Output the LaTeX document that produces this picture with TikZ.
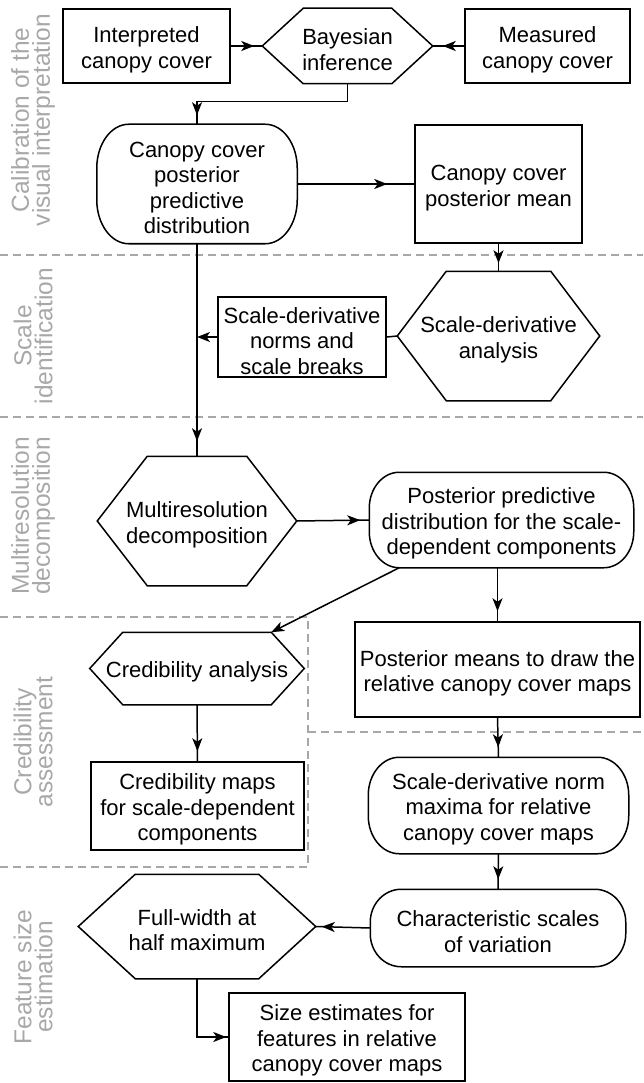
\documentclass[tikz,border=0pt]{standalone}
\usepackage{fontspec}
\setmainfont{Liberation Sans}
\usetikzlibrary{arrows.meta,calc,decorations.markings}
\definecolor{lanegray}{HTML}{A8A8A8}
\tikzset{
  base/.style={line width=1.5pt, align=center, inner sep=0pt, font=\fontsize{22}{25.5}\selectfont},
  boxnode/.style={base, draw},
  roundnode/.style={base},
  hexnode/.style={base},
  conn/.style={line width=1.5pt},
  lane/.style={draw=lanegray, dash pattern=on 8pt off 5pt, line width=1.4pt},
  lanelabel/.style={text=lanegray, rotate=90, align=center, inner sep=0pt, font=\fontsize{24.5}{21}\selectfont},
  arrowback/.style={postaction={decorate}, decoration={markings, mark=at position -#1 with {\arrow{>}}}},
}
\newcommand\sT{\rule{0pt}{23.5pt}}
\newcommand\hexdraw[2]{\draw[line width=1.5pt] (#1.west) -- ($(#1.north west)+(#2,0)$) -- ($(#1.north east)+(-#2,0)$) -- (#1.east) -- ($(#1.south east)+(-#2,0)$) -- ($(#1.south west)+(#2,0)$) -- cycle;}
\newcommand\rounddraw[3]{\draw[line width=1.5pt] ($(#1.north west)+(#2,0)$) -- ($(#1.north east)+(-#2,0)$)
  arc[start angle=90, end angle=0, x radius=#2pt, y radius=#3pt] -- ($(#1.south east)+(0,-#3)$)
  arc[start angle=0, end angle=-90, x radius=#2pt, y radius=#3pt] -- ($(#1.south west)+(#2,0)$)
  arc[start angle=270, end angle=180, x radius=#2pt, y radius=#3pt] -- ($(#1.north west)+(0,#3)$)
  arc[start angle=180, end angle=90, x radius=#2pt, y radius=#3pt] -- cycle;}
\begin{document}
\begin{tikzpicture}[x=1pt, y=-1pt, >={Stealth[length=13pt, width=10pt, inset=3.5pt]}]
\useasboundingbox (0,0) rectangle (643,1083);

% lane separators
\draw[lane] (0,255) -- (643,255);
\draw[lane] (0,417) -- (643,417);
\draw[lane] (0,617) -- (308,617) -- (308,867);
\draw[lane] (0,867) -- (308,867);
\draw[lane] (308,732) -- (643,732);

% lane labels
\node[lanelabel] (l1) at (33,120) {Calibration of the\\visual interpretation};
\node[lanelabel] (l2) at (33,336) {Scale\\identification};
\node[lanelabel] (l3) at (33,516) {Multiresolution\\decomposition};
\node[lanelabel] (l4) at (33,742) {Credibility\\assessment};
\node[lanelabel] (l5) at (33,977) {Feature size\\estimation};

% nodes
\node[boxnode, minimum width=167pt, minimum height=74pt] (interp) at (146.5,46) {\sT Interpreted\\canopy cover};
\node[hexnode, minimum width=169pt, minimum height=74pt] (bayes) at (347.5,46) {\sT Bayesian\\inference};
\hexdraw{bayes}{41}
\node[boxnode, minimum width=165pt, minimum height=74pt] (meas) at (547.5,46) {\sT Measured\\canopy cover};
\node[roundnode, minimum width=199pt, minimum height=118pt] (ppd) at (197,184) {\sT Canopy cover\\posterior\\predictive\\distribution};
\rounddraw{ppd}{32}{44}
\node[boxnode, minimum width=167pt, minimum height=118pt] (pmean) at (498.5,184) {\sT Canopy cover\\posterior mean};
\node[hexnode, minimum width=201pt, minimum height=128pt] (sda) at (498.5,336) {\sT Scale-derivative\\analysis};
\hexdraw{sda}{49}
\node[boxnode, minimum width=168pt, minimum height=80pt] (norms) at (302,337) {\sT Scale-derivative\\norms and\\scale breaks};
\node[hexnode, minimum width=198pt, minimum height=128pt] (mrd) at (197,521) {\sT Multiresolution\\decomposition};
\hexdraw{mrd}{50}
\node[roundnode, minimum width=263pt, minimum height=94pt] (ppdsc) at (501.5,520) {\sT Posterior predictive\\distribution for the scale-\\dependent components};
\rounddraw{ppdsc}{30}{36}
\node[hexnode, minimum width=213pt, minimum height=71pt] (cred) at (197,668.5) {\sT Credibility analysis};
\hexdraw{cred}{33}
\node[boxnode, minimum width=213pt, minimum height=88pt] (credmaps) at (197.5,806) {\sT Credibility maps\\for scale-dependent\\components};
\node[boxnode, minimum width=285pt, minimum height=95pt] (pmaps) at (497.5,669.5) {\sT Posterior means to draw the\\relative canopy cover maps};
\node[roundnode, minimum width=259pt, minimum height=95pt] (maxima) at (498.5,805.5) {\sT Scale-derivative norm\\maxima for relative\\canopy cover maps};
\rounddraw{maxima}{31}{38}
\node[roundnode, minimum width=254pt, minimum height=76pt] (charsc) at (498,928) {\sT Characteristic scales\\of variation};
\rounddraw{charsc}{31}{33}
\node[hexnode, minimum width=236pt, minimum height=103pt] (fwhm) at (197,926.5) {\sT Full-width at\\half maximum};
\hexdraw{fwhm}{57}
\node[boxnode, minimum width=236pt, minimum height=88pt] (size) at (347,1037) {\sT Size estimates for\\features in relative\\canopy cover maps};

% connectors
\draw[conn, arrowback=8pt] (interp.east) -- (bayes.west);
\draw[conn, arrowback=10pt] (meas.west) -- (bayes.east);
\draw[conn, arrowback=9pt] (bayes.south) -- ++(0,18) -| (ppd.north);
\draw[conn, arrowback=27pt] (ppd.east) -- (pmean.west);
\draw[conn, arrowback=8pt] (pmean.south) -- (sda.north);
\draw[conn] (sda.west) -- (norms.east);
\draw[conn, ->] (norms.west) -- (norms.west -| ppd.south);
\draw[conn, arrowback=15pt] (ppd.south) -- (mrd.north);
\draw[conn, arrowback=9pt] (mrd.east) -- (ppdsc.west);
\draw[conn, arrowback=10pt] (ppdsc.south -| pmaps.north) -- (pmaps.north);
\coordinate (ppdscout) at ($(ppdsc.south west)+(30,0)$);
\coordinate (credin) at ($(cred.north east)+(-33,0)$);
\draw[conn, ->] (ppdscout) -- (credin);
\draw[conn, arrowback=10pt] (cred.south) -- (credmaps.north);
\draw[conn, arrowback=10pt] (pmaps.south) -- (maxima.north);
\draw[conn, arrowback=10pt] (maxima.south) -- (charsc.north);
\draw[conn, arrowback=6pt] (charsc.west) -- (fwhm.east);
\draw[conn, arrowback=2pt] (fwhm.south) |- (size.west);
\end{tikzpicture}
\end{document}
